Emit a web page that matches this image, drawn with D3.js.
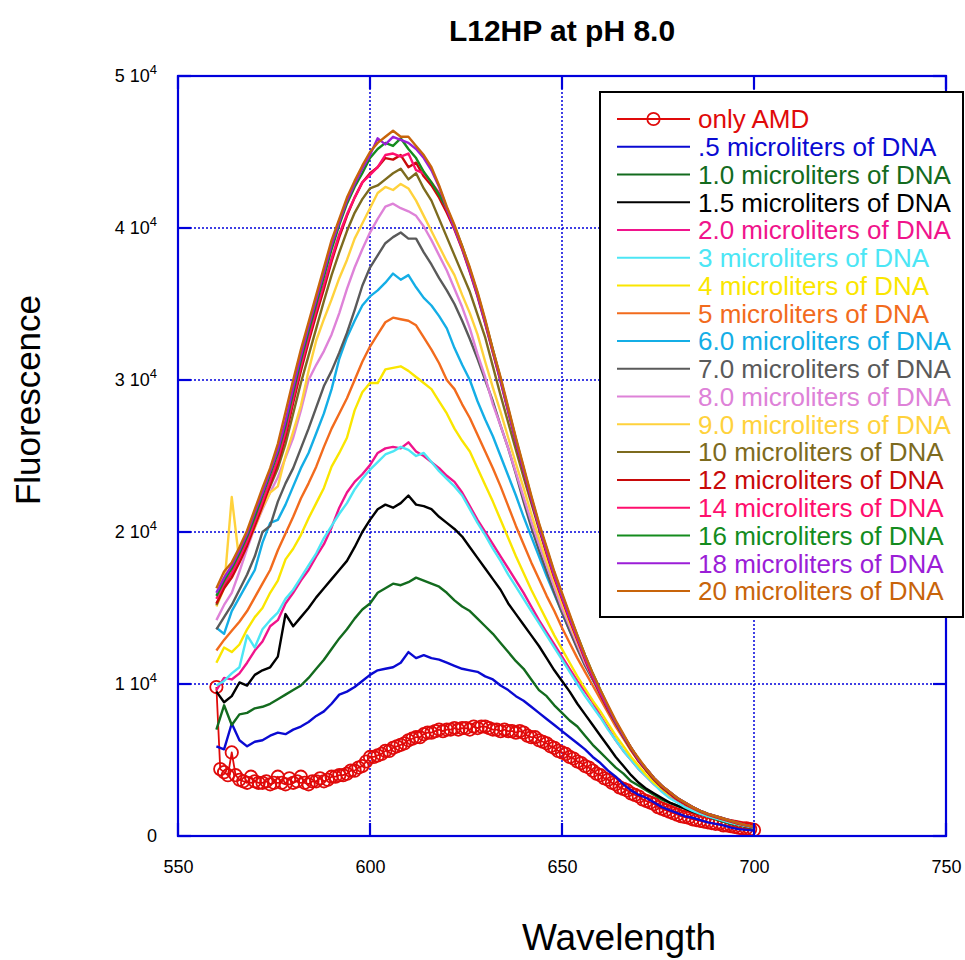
<!DOCTYPE html>
<html><head><meta charset="utf-8">
<script src="https://cdn.jsdelivr.net/npm/d3@7"></script>
<style>body{margin:0;background:#fff}svg{display:block}</style>
</head><body>
<svg id="chart" width="965" height="960"></svg>
<script>
// ---------- DATA (fluorescence in thousands) ----------
const titleText = "L12HP at pH 8.0";
const xLabel = "Wavelength";
const yLabel = "Fluorescence";
const xTicks = [550, 600, 650, 700, 750];
const yTicks = [0, 10, 20, 30, 40, 50];
const yTickMantissa = ["0", "1 10", "2 10", "3 10", "4 10", "5 10"];
const yTickExponent = ["", "4", "4", "4", "4", "4"];

// wavelength sampling
const wlAMD = d3.range(560, 701, 1);   // only AMD: every nm
const wlDNA = d3.range(560, 701, 2);   // DNA titrations: every 2 nm

const amd = [
 9.8,4.4,4.2,4.0,5.5,4.0,3.7,3.6,3.5,3.9,
 3.6,3.5,3.5,3.6,3.4,3.5,3.9,3.5,3.4,3.8,
 3.5,3.6,3.9,3.5,3.4,3.6,3.6,3.8,3.6,3.7,
 3.9,3.9,4.0,4.0,4.1,4.3,4.3,4.5,4.6,4.9,
 5.2,5.2,5.3,5.4,5.6,5.6,5.8,5.9,6.0,6.1,
 6.3,6.4,6.5,6.5,6.7,6.8,6.8,6.9,7.0,6.9,
 7.0,7.0,7.1,7.0,7.1,7.1,7.0,7.2,7.1,7.2,
 7.2,7.1,7.0,7.0,6.9,7.0,6.9,6.9,6.8,6.9,
 6.8,6.6,6.5,6.5,6.3,6.2,6.1,5.9,5.8,5.6,
 5.5,5.4,5.2,5.1,4.9,4.8,4.6,4.5,4.3,4.1,
 4.0,3.8,3.7,3.5,3.4,3.2,3.1,3.0,2.8,2.7,
 2.6,2.4,2.3,2.2,2.1,1.9,1.8,1.7,1.6,1.5,
 1.4,1.3,1.25,1.2,1.1,1.05,1.0,0.95,0.9,0.85,
 0.8,0.8,0.7,0.7,0.65,0.6,0.55,0.5,0.5,0.45,
 0.4];

const dna05 = [
 5.9,5.7,7.4,6.3,5.9,6.2,6.3,6.6,6.8,6.7,
 7.0,7.2,7.5,7.9,8.2,8.7,9.3,9.5,9.8,10.2,
 10.6,10.9,11.0,11.1,11.4,12.1,11.7,11.9,11.7,11.6,
 11.4,11.2,11.0,10.9,10.8,10.5,10.3,9.9,9.6,9.2,
 8.9,8.5,8.1,7.7,7.3,6.9,6.5,6.1,5.7,5.2,
 4.8,4.3,3.9,3.4,3.0,2.7,2.5,2.2,1.9,1.7,
 1.5,1.3,1.2,1.05,0.9,0.8,0.7,0.55,0.45,0.4,
 0.35];
const dna10 = [
 7.0,8.6,7.3,8.0,8.1,8.4,8.5,8.7,9.0,9.3,
 9.6,9.9,10.4,11.0,11.6,12.3,13.0,13.6,14.3,14.9,
 15.3,16.0,16.3,16.6,16.5,16.7,17.0,16.8,16.6,16.4,
 16.0,15.5,15.1,14.8,14.3,13.8,13.3,12.7,12.1,11.5,
 11.0,10.3,9.6,9.2,8.6,8.1,7.6,7.2,6.6,6.0,
 5.5,5.0,4.5,4.1,3.6,3.3,3.0,2.7,2.4,2.2,
 2.0,1.8,1.65,1.5,1.3,1.1,0.95,0.8,0.7,0.6,
 0.5];
const dna15 = [
 9.5,8.8,9.2,10.1,9.9,10.6,10.9,11.1,11.8,14.6,
 13.8,14.4,15.0,15.7,16.3,16.9,17.5,18.1,19.0,20.0,
 20.8,21.5,21.8,21.6,21.9,22.4,21.8,21.7,21.5,21.0,
 20.6,20.2,19.7,19.0,18.3,17.6,16.9,16.2,15.3,14.6,
 13.9,13.2,12.5,11.7,10.9,10.2,9.5,8.7,8.0,7.3,
 6.6,5.9,5.2,4.6,4.0,3.5,3.1,2.8,2.5,2.2,
 2.0,1.8,1.6,1.45,1.3,1.15,1.0,0.85,0.75,0.65,
 0.55];
const dna20 = [
 9.6,10.4,10.3,10.7,11.4,12.2,12.8,13.8,14.2,15.3,
 16.0,16.8,17.5,18.4,19.2,20.3,21.6,22.6,23.3,23.8,
 24.4,25.2,25.5,25.6,25.5,25.9,25.3,25.0,24.6,24.2,
 23.7,23.3,22.6,21.7,20.8,20.0,19.2,18.4,17.6,16.8,
 16.0,15.1,14.2,13.4,12.6,11.8,11.0,10.2,9.5,8.8,
 7.9,7.1,6.3,5.6,5.0,4.4,3.9,3.4,3.0,2.6,
 2.3,2.0,1.75,1.55,1.35,1.2,1.05,0.9,0.75,0.65,
 0.55];
const dna30 = [
 9.9,10.2,10.7,11.1,13.2,12.4,13.6,14.2,14.7,15.6,
 16.2,17.0,17.8,18.6,19.6,20.4,21.2,21.9,22.8,23.5,
 24.1,24.6,25.1,25.3,25.6,25.4,25.0,25.2,24.6,24.0,
 23.5,23.0,22.4,21.5,20.6,19.8,18.9,18.1,17.2,16.4,
 15.6,14.8,14.0,13.2,12.4,11.6,10.8,10.0,9.2,8.5,
 7.8,7.0,6.3,5.6,5.0,4.4,3.9,3.4,2.9,2.5,
 2.2,1.9,1.65,1.45,1.3,1.15,1.0,0.85,0.75,0.65,
 0.55];
const dna40 = [
 11.4,12.4,12.1,12.6,13.6,14.4,15.0,16.0,16.8,18.2,
 18.9,19.8,20.9,21.9,22.9,24.3,25.2,26.2,28.0,29.2,
 29.8,29.8,30.7,30.8,30.9,30.6,30.2,29.8,29.4,28.6,
 27.8,26.8,26.0,25.3,24.2,23.1,22.0,20.8,19.6,18.4,
 17.3,16.2,15.2,14.2,13.2,12.3,11.4,10.5,9.7,8.9,
 8.2,7.4,6.6,5.9,5.2,4.6,4.0,3.5,3.1,2.7,
 2.4,2.1,1.85,1.6,1.4,1.25,1.1,0.95,0.8,0.7,
 0.6];
const dna50 = [
 12.2,12.9,13.5,14.1,14.8,15.7,16.6,17.5,18.8,19.9,
 21.0,22.2,23.2,24.3,25.6,26.8,27.8,28.8,30.0,31.2,
 32.2,33.0,33.8,34.1,34.0,33.9,33.6,32.8,32.0,31.1,
 30.0,29.4,28.4,27.5,26.4,25.3,24.2,23.0,21.7,20.4,
 19.2,18.0,16.9,15.8,14.8,13.7,12.7,11.7,10.8,9.9,
 9.0,8.1,7.2,6.4,5.6,4.9,4.3,3.7,3.2,2.8,
 2.4,2.1,1.85,1.6,1.4,1.25,1.1,0.95,0.8,0.7,
 0.6];
const dna60 = [
 13.7,13.3,14.8,15.7,16.6,17.5,19.3,20.6,20.8,21.8,
 23.0,24.2,25.2,26.5,27.8,29.4,31.4,32.8,33.9,34.9,
 35.5,35.9,36.4,37.0,36.6,36.9,36.1,35.4,34.9,34.2,
 33.4,32.1,31.0,30.0,28.6,27.4,26.3,25.0,23.7,22.4,
 21.0,19.7,18.4,17.1,15.9,14.7,13.5,12.4,11.3,10.3,
 9.3,8.3,7.4,6.5,5.7,5.0,4.3,3.7,3.2,2.8,
 2.4,2.1,1.85,1.6,1.4,1.25,1.1,0.95,0.8,0.7,
 0.6];
const dna70 = [
 13.6,14.4,15.2,16.2,17.2,18.4,20.0,20.4,22.0,23.2,
 24.2,25.5,26.8,28.2,29.6,30.6,31.8,33.1,34.6,36.2,
 37.4,38.2,39.0,39.4,39.7,39.3,39.3,38.4,37.6,36.7,
 35.9,35.0,33.9,32.7,31.4,30.0,28.6,27.0,25.5,23.8,
 22.0,20.3,18.8,17.4,16.0,14.7,13.5,12.3,11.2,10.3,
 9.4,8.4,7.5,6.6,5.7,5.0,4.3,3.7,3.2,2.8,
 2.4,2.1,1.85,1.6,1.4,1.25,1.1,0.95,0.8,0.7,
 0.6];
const dna80 = [
 14.2,15.2,16.0,17.4,18.9,20.3,21.5,22.6,23.6,24.9,
 26.2,28.0,30.0,31.0,31.9,33.0,34.4,36.0,37.4,38.6,
 39.7,40.6,41.4,41.6,41.3,41.1,40.8,40.1,39.2,38.2,
 37.2,36.0,34.8,33.4,31.7,30.2,28.4,27.0,25.5,23.9,
 22.3,20.7,19.2,17.8,16.4,15.0,13.8,12.6,11.4,10.4,
 9.4,8.4,7.5,6.6,5.8,5.0,4.4,3.8,3.3,2.8,
 2.4,2.1,1.85,1.6,1.4,1.25,1.1,0.95,0.8,0.7,
 0.6];
const dna90 = [
 15.1,16.3,22.3,18.0,19.2,20.3,21.6,22.6,23.0,25.0,
 26.6,28.3,30.6,32.6,34.0,35.3,36.7,37.9,39.3,40.3,
 41.3,42.3,42.7,42.5,42.9,42.6,41.8,40.8,39.8,38.8,
 37.8,36.9,35.6,34.4,33.0,31.2,29.5,27.9,26.2,24.5,
 22.9,21.2,19.6,18.1,16.7,15.3,14.0,12.8,11.6,10.5,
 9.5,8.5,7.5,6.6,5.8,5.0,4.4,3.8,3.3,2.9,
 2.5,2.1,1.85,1.6,1.4,1.25,1.1,0.95,0.8,0.7,
 0.6];
const dna100 = [
 15.2,16.4,17.3,18.4,19.8,20.9,22.0,23.0,24.2,25.8,
 27.8,29.8,31.6,33.4,35.2,36.9,38.4,39.8,41.0,41.9,
 42.6,42.8,43.2,43.6,43.9,43.2,43.6,42.6,41.8,40.6,
 39.4,38.2,37.0,35.8,34.3,32.8,30.9,29.0,27.2,25.4,
 23.6,21.9,20.2,18.6,17.1,15.7,14.3,13.0,11.8,10.6,
 9.5,8.5,7.5,6.6,5.8,5.0,4.4,3.8,3.3,2.9,
 2.5,2.2,1.9,1.65,1.45,1.3,1.15,1.0,0.85,0.7,
 0.6];
const dna120 = [
 15.3,16.3,17.0,18.0,19.1,20.4,21.7,23.1,24.5,26.3,
 28.5,30.6,32.5,34.3,36.0,37.8,39.4,40.8,42.0,43.0,
 43.6,44.0,44.6,44.5,44.8,44.0,44.3,43.4,42.8,42.0,
 41.0,39.9,38.6,37.1,35.5,33.7,31.8,29.9,27.9,25.9,
 24.0,22.1,20.3,18.6,17.0,15.6,14.2,12.9,11.6,10.4,
 9.3,8.3,7.4,6.5,5.7,4.9,4.3,3.7,3.2,2.8,
 2.4,2.1,1.85,1.6,1.4,1.25,1.1,0.95,0.8,0.7,
 0.6];
const dna140 = [
 15.6,16.6,17.3,18.3,19.4,20.7,22.0,23.4,24.8,26.6,
 28.8,30.9,32.8,34.6,36.3,38.0,39.6,40.9,42.0,43.0,
 43.5,44.0,44.8,44.9,44.7,44.9,43.8,43.6,43.0,42.3,
 41.2,40.0,38.7,37.2,35.6,33.8,31.9,30.0,28.0,26.0,
 24.1,22.2,20.4,18.7,17.1,15.7,14.3,13.0,11.7,10.5,
 9.4,8.4,7.5,6.6,5.8,5.0,4.4,3.8,3.3,2.9,
 2.5,2.2,1.9,1.65,1.45,1.3,1.15,1.0,0.85,0.7,
 0.6];
const dna160 = [
 15.8,16.8,17.6,18.6,19.7,21.0,22.4,23.8,25.2,27.0,
 29.2,31.3,33.2,35.0,36.8,38.6,40.2,41.6,42.7,43.6,
 44.6,45.2,45.6,45.4,45.9,45.2,44.6,43.7,43.0,42.2,
 41.3,40.1,38.8,37.3,35.7,33.9,32.0,30.1,28.1,26.1,
 24.2,22.3,20.5,18.9,17.3,15.9,14.5,13.2,11.9,10.7,
 9.6,8.5,7.5,6.6,5.8,5.0,4.4,3.8,3.3,2.9,
 2.5,2.2,1.9,1.65,1.45,1.3,1.15,1.0,0.85,0.7,
 0.6];
const dna180 = [
 16.0,17.0,17.8,18.8,19.9,21.3,22.6,24.0,25.4,27.3,
 29.5,31.6,33.5,35.3,37.1,38.9,40.4,41.8,42.9,43.9,
 44.8,45.9,45.5,46.0,45.8,45.6,45.2,44.6,43.8,42.7,
 41.3,40.0,38.7,37.2,35.6,33.8,31.9,30.0,28.0,26.0,
 24.1,22.2,20.4,18.8,17.2,15.8,14.4,13.1,11.8,10.6,
 9.5,8.5,7.5,6.6,5.8,5.0,4.4,3.8,3.3,2.9,
 2.5,2.2,1.9,1.65,1.45,1.3,1.15,1.0,0.85,0.7,
 0.6];
const dna200 = [
 16.3,17.4,18.0,19.0,20.1,21.5,22.9,24.2,25.8,27.9,
 30.0,32.0,33.8,35.6,37.4,39.2,40.6,42.0,43.1,44.1,
 45.0,45.6,46.0,46.4,46.0,46.0,45.4,44.8,44.0,42.8,
 41.4,40.2,38.8,37.4,35.8,34.0,32.0,30.2,28.2,26.2,
 24.3,22.4,20.6,19.0,17.4,16.0,14.6,13.2,11.9,10.7,
 9.6,8.6,7.6,6.7,5.8,5.1,4.4,3.8,3.3,2.9,
 2.5,2.2,1.9,1.65,1.45,1.3,1.15,1.0,0.85,0.7,
 0.6];

const seriesNames = ["only AMD", ".5 microliters of DNA", "1.0 microliters of DNA", "1.5 microliters of DNA",
  "2.0 microliters of DNA", "3 microliters of DNA", "4 microliters of DNA", "5 microliters of DNA",
  "6.0 microliters of DNA", "7.0 microliters of DNA", "8.0 microliters of DNA", "9.0 microliters of DNA",
  "10 microliters of DNA", "12 microliters of DNA", "14 microliters of DNA", "16 microliters of DNA",
  "18 microliters of DNA", "20 microliters of DNA"];
const seriesColors = ["#e00a0a", "#0a0ad2", "#136b1e", "#000000", "#f0148c", "#4ce6f5", "#fae600",
  "#f26b1d", "#14aee6", "#5a5a5a", "#de82d8", "#ffd23c", "#7d6b1e", "#c80a0a", "#ff0f6e",
  "#148c1e", "#9b1ed7", "#c8640a"];
const seriesValues = [amd, dna05, dna10, dna15, dna20, dna30, dna40, dna50, dna60, dna70, dna80,
  dna90, dna100, dna120, dna140, dna160, dna180, dna200];

// ---------- CHART ----------
const FONT = "'Liberation Sans', Arial, Helvetica, sans-serif";
const AXIS = "#0000dc";
const svg = d3.select("#chart");
const L = 178, R = 946, T = 76, B = 836;
const x = d3.scaleLinear().domain([550, 750]).range([L, R]);
const y = d3.scaleLinear().domain([0, 50]).range([B, T]);

svg.append("rect").attr("width", 965).attr("height", 960).attr("fill", "#fff");

// grid (dotted)
const grid = svg.append("g");
grid.selectAll("line.gx").data(xTicks.slice(1, -1)).enter().append("line")
  .attr("x1", d => x(d)).attr("x2", d => x(d)).attr("y1", T).attr("y2", B)
  .attr("stroke", AXIS).attr("stroke-width", 1.5).attr("stroke-dasharray", "2,2");
grid.selectAll("line.gy").data(yTicks.slice(1, -1)).enter().append("line")
  .attr("x1", L).attr("x2", R).attr("y1", d => y(d)).attr("y2", d => y(d))
  .attr("stroke", AXIS).attr("stroke-width", 1.5).attr("stroke-dasharray", "2,2");

// series lines
const seriesData = seriesNames.map((n, i) => ({
  name: n, color: seriesColors[i], values: seriesValues[i], wl: i === 0 ? wlAMD : wlDNA
}));
const line = d3.line().x(d => x(d[0])).y(d => y(d[1]));
const plot = svg.append("g");
seriesData.forEach((s, i) => {
  const pts = s.values.map((v, j) => [s.wl[j], v]);
  plot.append("path").attr("d", line(pts)).attr("fill", "none")
    .attr("stroke", s.color).attr("stroke-width", i === 0 ? 1.8 : 2.4)
    .attr("stroke-linejoin", "round");
  if (i === 0) {
    plot.selectAll("circle.amd").data(pts).enter().append("circle")
      .attr("cx", d => x(d[0])).attr("cy", d => y(d[1])).attr("r", 6.2)
      .attr("fill", "none").attr("stroke", s.color).attr("stroke-width", 1.8);
  }
});

// frame
svg.append("rect").attr("x", L).attr("y", T).attr("width", R - L).attr("height", B - T)
  .attr("fill", "none").attr("stroke", AXIS).attr("stroke-width", 2.2);

// inward major ticks on all sides
const tk = 13;
const ticksG = svg.append("g").attr("stroke", AXIS).attr("stroke-width", 2.2);
xTicks.forEach(v => {
  ticksG.append("line").attr("x1", x(v)).attr("x2", x(v)).attr("y1", B).attr("y2", B - tk);
  ticksG.append("line").attr("x1", x(v)).attr("x2", x(v)).attr("y1", T).attr("y2", T + tk);
});
yTicks.forEach(v => {
  ticksG.append("line").attr("x1", L).attr("x2", L + tk).attr("y1", y(v)).attr("y2", y(v));
  ticksG.append("line").attr("x1", R).attr("x2", R - tk).attr("y1", y(v)).attr("y2", y(v));
});

// bottom axis labels
const xAxis = svg.append("g").attr("transform", `translate(0,${B})`)
  .call(d3.axisBottom(x).tickValues(xTicks).tickSize(0).tickPadding(24).tickFormat(d3.format("d")));
xAxis.select(".domain").remove();
xAxis.selectAll("text").attr("font-family", FONT).attr("font-size", 18).attr("fill", "#000");

// left axis labels
const yAxis = svg.append("g").attr("transform", `translate(${L},0)`)
  .call(d3.axisLeft(y).tickValues(yTicks).tickSize(0).tickPadding(21).tickFormat(""));
yAxis.select(".domain").remove();
yAxis.selectAll(".tick text").each(function (d) {
  const i = yTicks.indexOf(d);
  const t = d3.select(this).attr("font-family", FONT).attr("font-size", 18).attr("fill", "#000");
  t.text(null);
  t.append("tspan").text(yTickMantissa[i]);
  if (yTickExponent[i]) t.append("tspan").attr("font-size", 13).attr("dy", "-0.6em").text(yTickExponent[i]);
});

// titles
svg.append("text").attr("x", (L + R) / 2).attr("y", 41).attr("text-anchor", "middle")
  .attr("font-family", FONT).attr("font-weight", "bold").attr("font-size", 30).text(titleText);
svg.append("text").attr("x", 619).attr("y", 950).attr("text-anchor", "middle")
  .attr("font-family", FONT).attr("font-size", 37).text(xLabel);
svg.append("text").attr("transform", "translate(40,400) rotate(-90)").attr("text-anchor", "middle")
  .attr("font-family", FONT).attr("font-size", 35).text(yLabel);

// legend
const lg = svg.append("g");
lg.append("rect").attr("x", 600).attr("y", 92).attr("width", 363).attr("height", 525)
  .attr("fill", "#fff").attr("stroke", "#000").attr("stroke-width", 2);
const rowY = i => 119 + i * 27.76;
seriesData.forEach((s, i) => {
  lg.append("line").attr("x1", 617).attr("x2", 690).attr("y1", rowY(i)).attr("y2", rowY(i))
    .attr("stroke", s.color).attr("stroke-width", 2);
  if (i === 0) lg.append("circle").attr("cx", 653.5).attr("cy", rowY(i)).attr("r", 6.2)
    .attr("fill", "none").attr("stroke", s.color).attr("stroke-width", 1.8);
  lg.append("text").attr("x", 698).attr("y", rowY(i)).attr("dy", "0.36em")
    .attr("font-family", FONT).attr("font-size", 26).attr("fill", s.color).text(s.name);
});
</script>
</body></html>
